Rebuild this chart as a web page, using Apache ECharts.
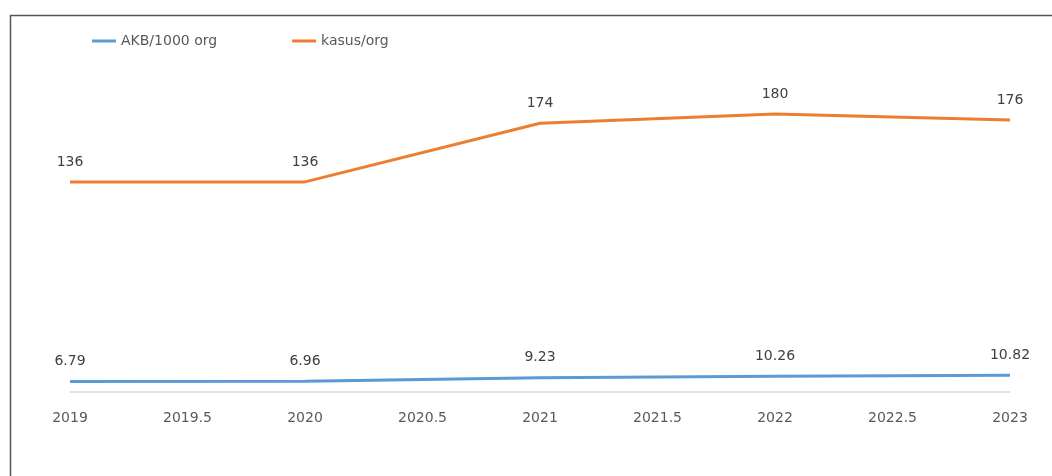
<!DOCTYPE html>
<html>
<head>
<meta charset="utf-8">
<script src="https://cdn.jsdelivr.net/npm/echarts@6/dist/echarts.min.js"></script>
<style>
html,body{margin:0;padding:0;background:#fff;}
#chart{width:1052px;height:476px;}
</style>
</head>
<body>
<div id="chart"></div>
<script>
const years = [2019, 2020, 2021, 2022, 2023];
const akb = [6.79, 6.96, 9.23, 10.26, 10.82];
const kasus = [136, 136, 174, 180, 176];
const seriesNames = ['AKB/1000 org', 'kasus/org'];

const chart = echarts.init(document.getElementById('chart'));
const font = '"DejaVu Sans", sans-serif';
const pair = (xs, ys) => xs.map((x, i) => [x, ys[i]]);

chart.setOption({
  animation: false,
  backgroundColor: '#fff',
  textStyle: {fontFamily: font},
  graphic: [{
    type: 'rect',
    shape: {x: 10.5, y: 15.5, width: 1200, height: 600},
    style: {fill: 'none', stroke: '#555', lineWidth: 1.5}
  }],
  legend: {
    left: 87, top: 29,
    itemWidth: 24, itemHeight: 3, itemGap: 75,
    icon: 'rect',
    textStyle: {color: '#595959', fontSize: 14, fontFamily: font},
    data: seriesNames
  },
  grid: {left: 70, right: 42, top: 83, bottom: 84},
  xAxis: {
    type: 'value', min: 2019, max: 2023, interval: 0.5,
    axisLine: {lineStyle: {color: '#d9d9d9', width: 1.5}},
    axisTick: {show: false},
    splitLine: {show: false},
    axisLabel: {color: '#595959', fontSize: 14, margin: 19, fontFamily: font,
      formatter: v => String(v)}
  },
  yAxis: {
    type: 'value', min: 0, max: 200,
    show: false, splitLine: {show: false}
  },
  series: [{
    name: seriesNames[0], type: 'line',
    data: pair(years, akb),
    color: '#5B9BD5',
    lineStyle: {width: 3},
    showSymbol: true, symbol: 'circle', symbolSize: 0,
    label: {show: true, position: 'top', distance: 13, color: '#404040', fontSize: 14, fontFamily: font,
      formatter: p => p.value[1].toFixed(2)}
  }, {
    name: seriesNames[1], type: 'line',
    data: pair(years, kasus),
    color: '#ED7D31',
    lineStyle: {width: 3},
    showSymbol: true, symbol: 'circle', symbolSize: 0,
    label: {show: true, position: 'top', distance: 13, color: '#404040', fontSize: 14, fontFamily: font,
      formatter: p => String(p.value[1])}
  }]
});
</script>
</body>
</html>
